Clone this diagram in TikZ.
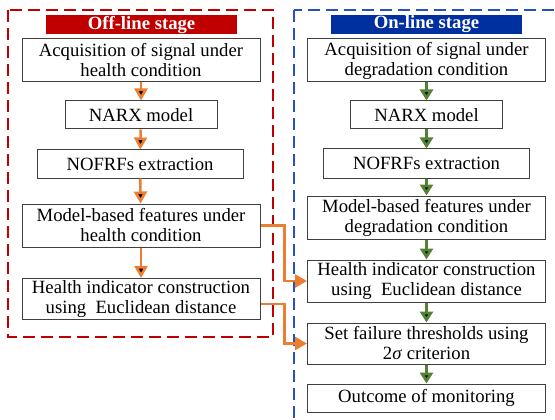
\documentclass[tikz,border=0pt]{standalone}
\usepackage{fontspec}
\setmainfont{Liberation Serif}
\newfontfamily\timesfont{Liberation Serif}
\usetikzlibrary{arrows.meta}
\definecolor{offred}{RGB}{192,0,0}
\definecolor{onblue}{RGB}{0,48,160}
\definecolor{dashblue}{RGB}{40,80,190}
\definecolor{floworange}{RGB}{237,125,49}
\definecolor{flowgreen}{RGB}{84,130,53}

\begin{document}
\begin{tikzpicture}[
    x=1pt, y=-1pt,
    font=\timesfont\fontsize{18.7}{20}\selectfont,
    block/.style={draw=black!75, line width=1pt, fill=white, align=center, inner sep=0pt},
    wide/.style={block, minimum width=238pt, minimum height=43pt},
    stagebar/.style={fill=#1, text=white, font=\timesfont\fontsize{18.7}{20}\selectfont\bfseries,
        minimum width=191pt, minimum height=19pt, inner sep=0pt},
    stageframe/.style={draw=#1, line width=2pt, dash pattern=on 12pt off 6pt},
    orflow/.style={draw=floworange, line width=2.6pt, -{Triangle[length=12pt,width=13pt]}},
    grflow/.style={draw=flowgreen, line width=2.8pt, -{Triangle[length=11pt,width=13pt]}}
]
    \useasboundingbox (0,0) rectangle (555,420);
    \clip (0,0) rectangle (555,420);

    % Dashed frames of the two stages
    \draw[stageframe=offred] (8,10) rectangle (273,337);
    \draw[stageframe=dashblue] (294,10) rectangle (570,440);

    \node[stagebar=offred] (offtitle) at (141.5,24.5) {Off-line stage};
    \node[stagebar=onblue] (ontitle) at (426.5,24.5) {On-line stage};

    % Off-line column
    \node[wide] (off1) at (141,60.5) {Acquisition of signal under\\health condition};
    \node[block, minimum width=152pt, minimum height=28pt] (off2) at (141,115) {NARX model};
    \node[block, minimum width=206pt, minimum height=28pt] (off3) at (140,164) {NOFRFs extraction};
    \node[wide] (off4) at (141,225.5) {Model-based features under\\health condition};
    \node[wide, minimum height=41pt] (off5) at (141,299) {Health indicator construction\\using\ \ Euclidean distance};

    % On-line column
    \node[wide] (on1) at (426.5,60.5) {Acquisition of signal under\\degradation condition};
    \node[block, minimum width=152pt, minimum height=28pt] (on2) at (426.5,115) {NARX model};
    \node[block, minimum width=206pt, minimum height=29pt] (on3) at (426.5,163.5) {NOFRFs extraction};
    \node[wide] (on4) at (426.5,217.5) {Model-based features under\\degradation condition};
    \node[wide, minimum height=42pt] (on5) at (426.5,281) {Health indicator construction\\using\ \ Euclidean distance};
    \node[wide, minimum height=41pt] (on6) at (426.5,343.5) {Set failure thresholds using\\2\textit{σ} criterion};
    \node[wide, minimum height=28pt] (on7) at (426.5,398) {Outcome of monitoring};

    \path[orflow]
        (off1) edge (off2)
        (off2) edge (off3)
        (off3) edge (off4)
        (off4) edge (off5);
    \path[grflow]
        (on1) edge (on2)
        (on2) edge (on3)
        (on3) edge (on4)
        (on4) edge (on5)
        (on5) edge (on6)
        (on6) edge (on7);

    % Links from the off-line stage
    \draw[orflow] (off4.east) -- ++(24,0) |- (on5.west);
    \draw[orflow] ([yshift=-5pt]off5.east) -- ++(24,0) |- (on6.west);
\end{tikzpicture}
\end{document}
